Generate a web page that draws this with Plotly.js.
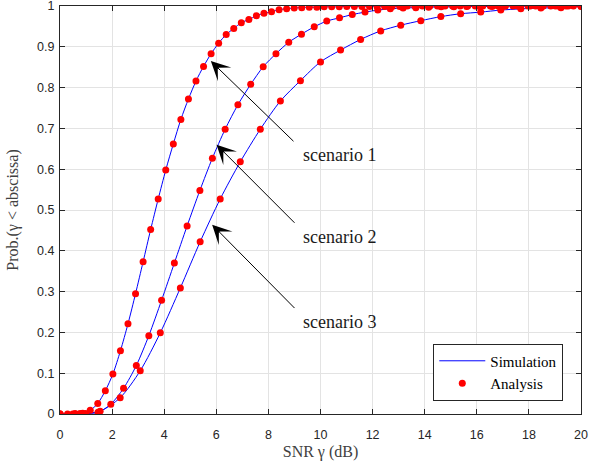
<!DOCTYPE html>
<html>
<head>
<meta charset="utf-8">
<script src="https://cdn.plot.ly/plotly-3.0.1.min.js"></script>
<style>html,body{margin:0;padding:0;background:#fff}#chart{width:589px;height:467px}</style>
</head>
<body>
<div id="chart"></div>
<script>
// Scenario 1
const snr1 = [0, 0.29, 0.58, 0.87, 1.16, 1.45, 1.74, 2.03, 2.32, 2.61, 2.90, 3.19, 3.48, 3.77, 4.06, 4.35, 4.64, 4.93, 5.22, 5.51, 5.80, 6.09, 6.38, 6.67, 6.96, 7.25, 7.54, 7.83, 8.12, 8.41, 8.70, 8.99, 9.28, 9.57, 9.86, 10.14, 10.43, 10.72, 11.01, 11.30, 11.59, 11.88, 12.17, 12.46, 12.75, 13.04, 13.33, 13.62, 13.91, 14.20, 14.49, 14.78, 15.07, 15.36, 15.65, 15.94, 16.23, 16.52, 16.81, 17.10, 17.39, 17.68, 17.97, 18.26, 18.55, 18.84, 19.13, 19.42, 19.71, 20.00];
const prob1 = [0.000, 0.000, 0.001, 0.002, 0.009, 0.026, 0.057, 0.098, 0.155, 0.221, 0.295, 0.373, 0.452, 0.527, 0.598, 0.662, 0.722, 0.772, 0.816, 0.852, 0.883, 0.909, 0.930, 0.945, 0.959, 0.967, 0.976, 0.982, 0.986, 0.991, 0.993, 0.995, 0.996, 0.997, 0.997, 0.998, 0.998, 0.998, 0.999, 0.999, 0.999, 0.999, 0.999, 0.999, 0.999, 0.999, 1.000, 1.000, 1.000, 1.000, 1.000, 1.000, 1.000, 1.000, 1.000, 1.000, 1.000, 1.000, 1.000, 1.000, 1.000, 1.000, 1.000, 1.000, 1.000, 1.000, 1.000, 1.000, 1.000, 1.000];
// Scenario 2
const snr2 = [0, 0.49, 0.98, 1.46, 1.95, 2.44, 2.93, 3.41, 3.90, 4.39, 4.88, 5.37, 5.85, 6.34, 6.83, 7.32, 7.80, 8.29, 8.78, 9.27, 9.76, 10.24, 10.73, 11.22, 11.71, 12.20, 12.68, 13.17, 13.66, 14.15, 14.63, 15.12, 15.61, 16.10, 16.59, 17.07, 17.56, 18.05, 18.54, 19.02, 19.51, 20.00];
const prob2 = [0.000, 0.000, 0.001, 0.004, 0.024, 0.063, 0.119, 0.192, 0.279, 0.370, 0.461, 0.548, 0.627, 0.698, 0.758, 0.808, 0.851, 0.883, 0.911, 0.931, 0.949, 0.963, 0.971, 0.979, 0.985, 0.990, 0.993, 0.995, 0.996, 0.997, 0.998, 0.998, 0.999, 0.999, 0.999, 1.000, 1.000, 1.000, 1.000, 1.000, 1.000, 1.000];
// Scenario 3
const snr3 = [0, 0.77, 1.54, 2.31, 3.08, 3.85, 4.62, 5.38, 6.15, 6.92, 7.69, 8.46, 9.23, 10.00, 10.77, 11.54, 12.31, 13.08, 13.85, 14.62, 15.38, 16.15, 16.92, 17.69, 18.46, 19.23, 20.00];
const prob3 = [0.000, 0.001, 0.007, 0.040, 0.106, 0.199, 0.309, 0.422, 0.527, 0.618, 0.698, 0.767, 0.817, 0.863, 0.892, 0.918, 0.939, 0.953, 0.964, 0.974, 0.981, 0.985, 0.990, 0.993, 0.995, 0.996, 0.999];

const xTicks = [0, 2, 4, 6, 8, 10, 12, 14, 16, 18, 20];
const yTicks = [0, 0.1, 0.2, 0.3, 0.4, 0.5, 0.6, 0.7, 0.8, 0.9, 1];
const legendNames = ["Simulation", "Analysis"];
const labels = ["scenario 1", "scenario 2", "scenario 3"];
// arrow head / tail / label anchors (data coords)
const arrowHeadX = [5.79, 6.01, 5.84];
const arrowHeadY = [0.865, 0.660, 0.464];
const arrowTailX = [9.02, 9.06, 9.06];
const arrowTailY = [0.665, 0.465, 0.256];
const labelX = [9.25, 9.25, 9.25];
const labelY = [0.635, 0.435, 0.225];

const sets = [[snr1, prob1], [snr2, prob2], [snr3, prob3]];
const traces = [];
sets.forEach((s, i) => {
  traces.push({x: s[0], y: s[1], type: 'scatter', mode: 'lines',
    line: {color: '#0000ff', width: 1, shape: 'spline', smoothing: 0.8},
    name: legendNames[0], showlegend: i === 0, legendrank: 1, hoverinfo: 'skip'});
});
sets.forEach((s, i) => {
  traces.push({x: s[0], y: s[1], type: 'scatter', mode: 'markers',
    marker: {color: '#ff0000', size: 7, line: {width: 0}},
    name: legendNames[1], showlegend: i === 0, legendrank: 2, hoverinfo: 'skip'});
});

const annotations = [];
for (let i = 0; i < 3; i++) {
  annotations.push({x: arrowHeadX[i], y: arrowHeadY[i], xref: 'x', yref: 'y',
    ax: arrowTailX[i], ay: arrowTailY[i], axref: 'x', ayref: 'y',
    text: '', showarrow: true, arrowhead: 3, arrowsize: 3.2, arrowwidth: 1,
    arrowcolor: '#000000', standoff: 0, startstandoff: 0});
  annotations.push({x: labelX[i], y: labelY[i], xref: 'x', yref: 'y',
    text: labels[i], showarrow: false, xanchor: 'left', yanchor: 'middle',
    font: {family: 'Liberation Serif, Times New Roman, serif', size: 18, color: '#1a1a1a'}});
}

const axisCommon = {
  showgrid: true, gridcolor: '#e3e3e3', gridwidth: 1,
  zeroline: false, showline: true, linecolor: '#262626', linewidth: 1,
  mirror: 'ticks', ticks: 'inside', ticklen: 5, tickcolor: '#262626', tickwidth: 1,
  ticklabeloverflow: 'allow',
  tickfont: {family: 'Liberation Sans, Arial, sans-serif', size: 12.5, color: '#262626'}
};

const layout = {
  width: 589, height: 467,
  margin: {l: 60, r: 8, t: 6, b: 53},
  paper_bgcolor: '#ffffff', plot_bgcolor: '#ffffff',
  xaxis: Object.assign({}, axisCommon, {range: [0, 20], tickvals: xTicks, ticklabelstandoff: 9,
    title: {text: 'SNR γ (dB)', standoff: 4,
      font: {family: 'Liberation Serif, Times New Roman, serif', size: 16, color: '#404040'}}}),
  yaxis: Object.assign({}, axisCommon, {range: [0, 1], tickvals: yTicks, ticklabelstandoff: 2,
    title: {text: 'Prob.(γ < abscissa)', standoff: 14,
      font: {family: 'Liberation Serif, Times New Roman, serif', size: 16, color: '#404040'}}}),
  legend: {x: 0.966, y: 0.033, xanchor: 'right', yanchor: 'bottom',
    bgcolor: '#ffffff', bordercolor: '#262626', borderwidth: 1, itemwidth: 46,
    font: {family: 'Liberation Serif, Times New Roman, serif', size: 15, color: '#000000'},
    tracegroupgap: 0},
  annotations: annotations,
  showlegend: true
};

Plotly.newPlot('chart', traces, layout, {displayModeBar: false, staticPlot: true});
</script>
</body>
</html>
